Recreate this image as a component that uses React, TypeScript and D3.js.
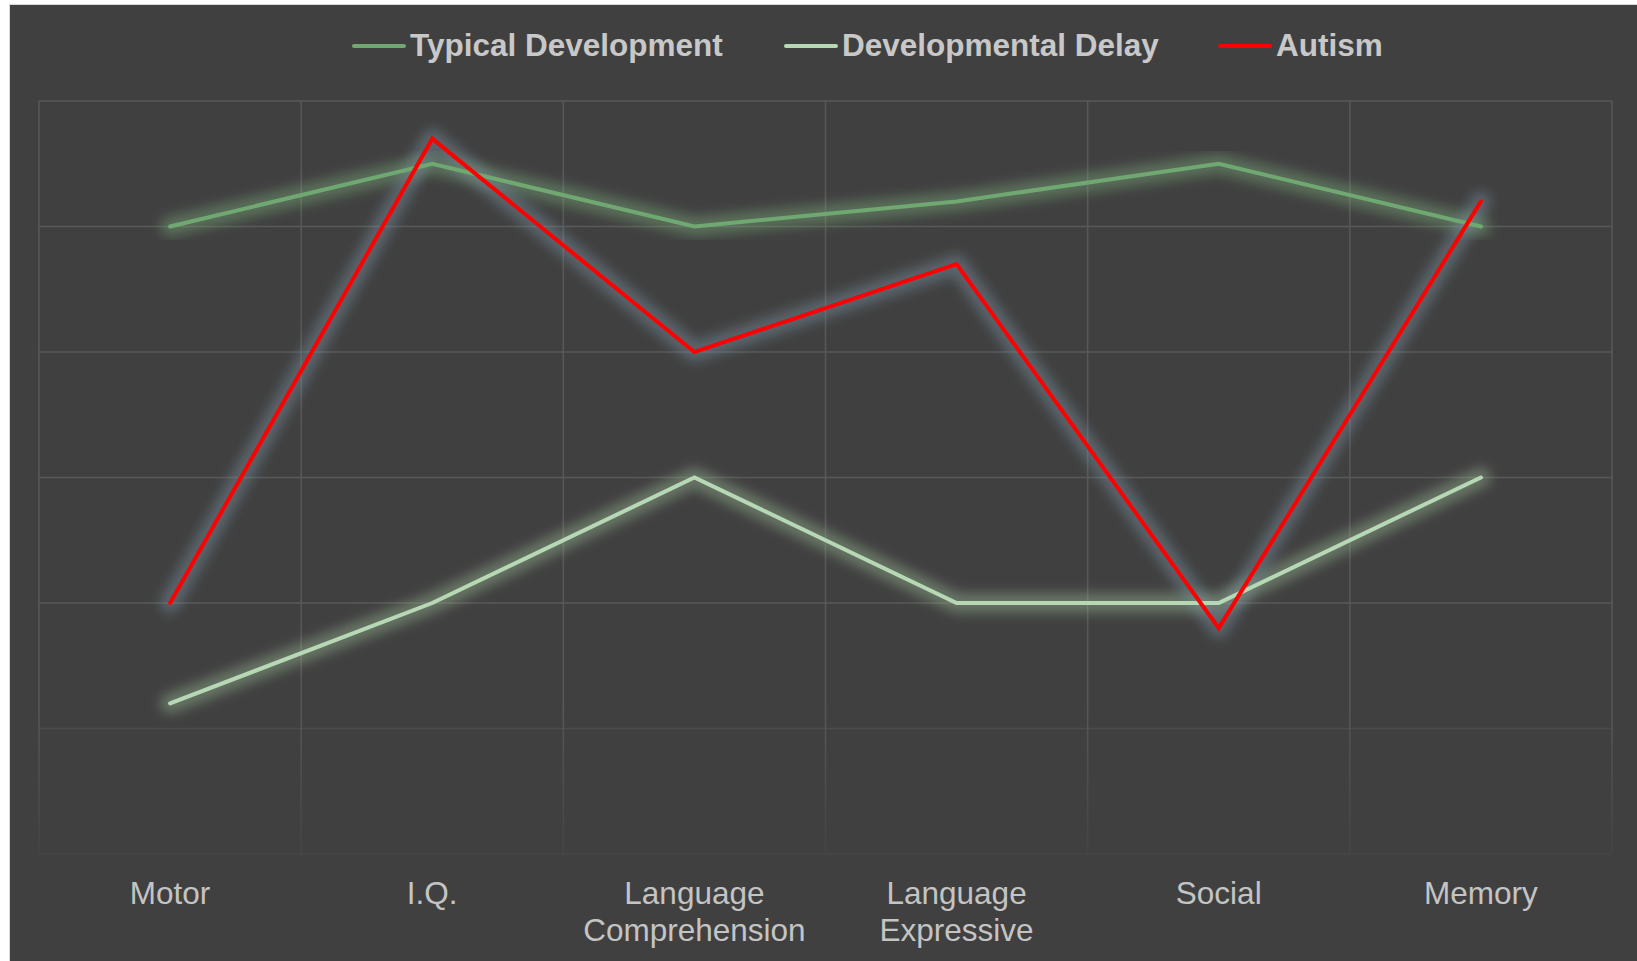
import { useEffect, useRef } from "react"
import * as d3 from "d3"

const categories = ["Motor", "I.Q.", "Language\nComprehension", "Language\nExpressive", "Social", "Memory"]
const typicalDevelopment = [5, 5.5, 5, 5.2, 5.5, 5]
const developmentalDelay = [1.2, 2, 3, 2, 2, 3]
const autism = [2, 5.7, 4, 4.7, 1.8, 5.2]
const yTicks = [0, 1, 2, 3, 4, 5, 6]

const seriesNames = ["Typical Development", "Developmental Delay", "Autism"]
const seriesColors = ["#70a872", "#b7d8b5", "#ff0000"]
const glowColors = ["#7fb07f", "#9fbf99", "#7f97a8"]

export default function App() {
  const svgRef = useRef<SVGSVGElement>(null)

  useEffect(() => {
    if (!svgRef.current) return
    d3.select(svgRef.current).selectAll("*").remove()

    const width = 1637
    const height = 961
    const plot = { left: 39, right: 1612, top: 101, bottom: 854 }

    const svg = d3
      .select(svgRef.current)
      .attr("width", width)
      .attr("height", height)
      .attr("viewBox", [0, 0, width, height])

    // page + chart area
    svg.append("rect").attr("width", width).attr("height", height).attr("fill", "#ffffff")
    svg
      .append("rect")
      .attr("x", 9.5)
      .attr("y", 4.5)
      .attr("width", width - 9)
      .attr("height", height - 4)
      .attr("fill", "#404040")
      .attr("stroke", "#d9d9d9")
      .attr("stroke-width", 1)

    const defs = svg.append("defs")
    defs
      .append("filter")
      .attr("id", "glow")
      .attr("x", "-20%")
      .attr("y", "-20%")
      .attr("width", "140%")
      .attr("height", "140%")
      .append("feGaussianBlur")
      .attr("stdDeviation", 6)

    const fade = defs
      .append("linearGradient")
      .attr("id", "vfade")
      .attr("gradientUnits", "userSpaceOnUse")
      .attr("x1", 0)
      .attr("x2", 0)
      .attr("y1", plot.top)
      .attr("y2", plot.bottom)
    fade.append("stop").attr("offset", "0.8").attr("stop-color", "#585858")
    fade.append("stop").attr("offset", "1").attr("stop-color", "#444444")

    const x = d3.scaleBand<string>().domain(categories).range([plot.left, plot.right])
    const y = d3.scaleLinear().domain([0, 6]).range([plot.bottom, plot.top])
    const cx = (c: string) => x(c)! + x.bandwidth() / 2

    // horizontal gridlines
    svg
      .append("g")
      .selectAll("line")
      .data(yTicks)
      .enter()
      .append("line")
      .attr("x1", plot.left)
      .attr("x2", plot.right)
      .attr("y1", (d) => y(d))
      .attr("y2", (d) => y(d))
      .attr("stroke", (d) => (d === 0 ? "#464646" : d === 1 ? "#4c4c4c" : "#585858"))
      .attr("stroke-width", 1.5)

    // vertical gridlines (fade toward the bottom)
    const bounds = categories.map((c) => x(c)!).concat([plot.right])
    svg
      .append("g")
      .selectAll("line")
      .data(bounds)
      .enter()
      .append("line")
      .attr("x1", (d) => d)
      .attr("x2", (d) => d)
      .attr("y1", plot.top)
      .attr("y2", plot.bottom)
      .attr("stroke", "url(#vfade)")
      .attr("stroke-width", 1.5)

    const allSeries = [typicalDevelopment, developmentalDelay, autism]
    const line = d3
      .line<number>()
      .x((_, i) => cx(categories[i]))
      .y((d) => y(d))

    // glows first, then lines
    allSeries.forEach((s, i) => {
      svg
        .append("path")
        .attr("d", line(s)!)
        .attr("fill", "none")
        .attr("stroke", glowColors[i])
        .attr("stroke-width", 20)
        .attr("stroke-linejoin", "round")
        .attr("stroke-linecap", "round")
        .attr("opacity", 0.42)
        .attr("filter", "url(#glow)")
    })
    allSeries.forEach((s, i) => {
      svg
        .append("path")
        .attr("d", line(s)!)
        .attr("fill", "none")
        .attr("stroke", seriesColors[i])
        .attr("stroke-width", 4)
        .attr("stroke-linejoin", "miter")
        .attr("stroke-linecap", "round")
    })

    // category labels
    const labels = svg
      .append("g")
      .selectAll("text")
      .data(categories)
      .enter()
      .append("text")
      .attr("x", (d) => cx(d))
      .attr("y", 904)
      .attr("text-anchor", "middle")
      .attr("font-family", "Liberation Sans, Arial, sans-serif")
      .attr("font-size", 31.5)
      .attr("fill", "#c4c4c4")
    labels
      .selectAll("tspan")
      .data((d) => d.split("\n").map((t) => ({ t, c: d })))
      .enter()
      .append("tspan")
      .attr("x", (d) => cx(d.c))
      .attr("dy", (_, i) => (i === 0 ? 0 : 37))
      .text((d) => d.t)

    // legend
    const legendX = [352, 784, 1218]
    seriesNames.forEach((name, i) => {
      const g = svg.append("g").attr("transform", `translate(${legendX[i]},46)`)
      g.append("line")
        .attr("x1", 2)
        .attr("x2", 52)
        .attr("y1", 0)
        .attr("y2", 0)
        .attr("stroke", seriesColors[i])
        .attr("stroke-width", 4)
        .attr("stroke-linecap", "round")
      g.append("text")
        .attr("x", 58)
        .attr("y", 10)
        .attr("font-family", "Liberation Sans, Arial, sans-serif")
        .attr("font-weight", "bold")
        .attr("font-size", 31.5)
        .attr("fill", "#c8c8c8")
        .text(name)
    })
  }, [])

  return <svg ref={svgRef} style={{ position: "absolute", left: 0, top: 0 }} />
}
